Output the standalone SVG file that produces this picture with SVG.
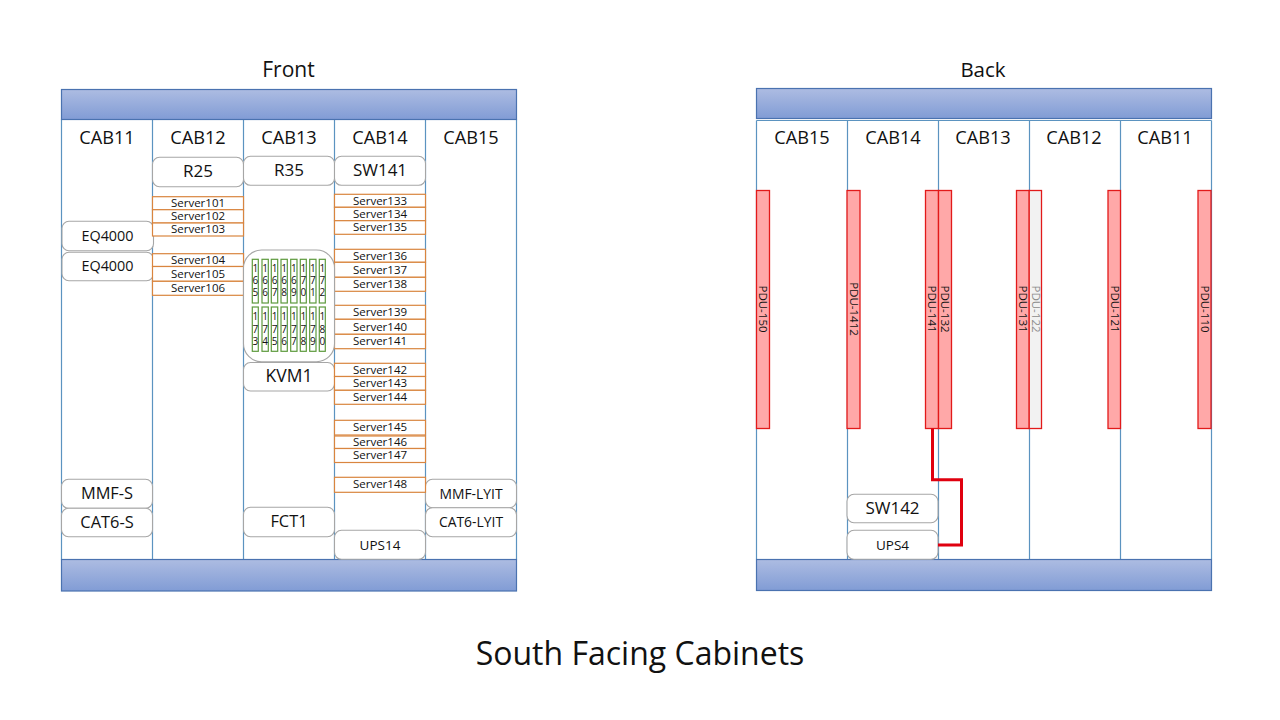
<svg xmlns="http://www.w3.org/2000/svg" width="1280" height="720" viewBox="0 0 1280 720">
<style>
text{font-family:"Open Sans","Noto Sans","Liberation Sans",sans-serif;fill:#111;text-anchor:middle}
.bar{fill:url(#g);stroke:#4a72b0;stroke-width:1.2}
.col{fill:none;stroke:#5b93c0;stroke-width:1.2}
.box{fill:#fff;stroke:#a6a6a6;stroke-width:1.1}
.srv{fill:#fff;stroke:#d9853f;stroke-width:1.2}
.cell{fill:#fff;stroke:#5d9a3c;stroke-width:1.2}
.pdu{fill:#ffa8a8;stroke:#e21a1a;stroke-width:1.3}
.pl{fill:#f2f2f2}
.cab{font-size:18.2px}
.n17{font-size:17px}
.n16{font-size:16.400px}
.n14{font-size:14.400px}
.n13{font-size:13.500px}
.nl{font-size:13.900px}
.s{font-size:11.500px}
.d{font-size:10px}
.p{font-size:11.500px}
.wire{fill:none;stroke:#e0000f;stroke-width:3}
</style>
<defs>
<linearGradient id="g" x1="0" y1="0" x2="0" y2="1"><stop offset="0" stop-color="#adbce2"/><stop offset="1" stop-color="#819cd5"/></linearGradient>
</defs>
<rect width="1280" height="720" fill="#fff"/>
<text x="288.500" y="77" font-size="21">Front</text>
<text x="983" y="77" font-size="20.500">Back</text>
<text x="640" y="665" font-size="32">South Facing Cabinets</text>

<g id="front-frame">
<path class="col" d="M61.500 119.500V559.500M152.500 119.500V559.500M243.500 119.500V559.500M334.500 119.500V559.500M425.500 119.500V559.500M516.500 119.500V559.500"/>
<rect class="bar" x="61.500" y="89.500" width="455" height="30"/>
<rect class="bar" x="61.500" y="559.500" width="455" height="31.500"/>
<text x="107" y="144" class="cab">CAB11</text><text x="198" y="144" class="cab">CAB12</text><text x="289" y="144" class="cab">CAB13</text><text x="380" y="144" class="cab">CAB14</text><text x="471" y="144" class="cab">CAB15</text>
</g>
<g id="back-frame">
<path class="col" d="M756.500 120.500H1211.500M756.500 120.500V559M847.500 120.500V559M938.500 120.500V559M1029.500 120.500V559M1120.500 120.500V559M1211.500 120.500V559"/>
<rect class="bar" x="756.500" y="88.500" width="455" height="30"/>
<rect class="bar" x="756.500" y="559.500" width="455" height="31"/>
<text x="802" y="144" class="cab">CAB15</text><text x="893" y="144" class="cab">CAB14</text><text x="983" y="144" class="cab">CAB13</text><text x="1074" y="144" class="cab">CAB12</text><text x="1165" y="144" class="cab">CAB11</text>
</g>

<g id="R25"><rect class="box" x="152.500" y="157.300" width="91" height="29.400" rx="7"/><text x="198" y="177" class="n17">R25</text></g>
<g id="R35"><rect class="box" x="243.500" y="156.300" width="91" height="29" rx="7"/><text x="289" y="176" class="n17">R35</text></g>
<g id="SW141"><rect class="box" x="334.500" y="156.300" width="91" height="29" rx="7"/><text x="380" y="176" class="n17">SW141</text></g>
<g id="EQ4000-1"><rect class="box" x="62" y="221.300" width="91.500" height="29.400" rx="7"/><text x="107.500" y="241" class="n14">EQ4000</text></g>
<g id="EQ4000-2"><rect class="box" x="62" y="252.300" width="91.500" height="28.400" rx="7"/><text x="107.500" y="271" class="n14">EQ4000</text></g>
<g id="KVM1"><rect class="box" x="243.500" y="362.500" width="91" height="28.500" rx="7"/><text x="289" y="382" class="n17" style="font-size:17.500px">KVM1</text></g>
<g id="FCT1"><rect class="box" x="243.500" y="507.300" width="91" height="29.400" rx="7"/><text x="289" y="527" class="n16">FCT1</text></g>
<g id="UPS14"><rect class="box" x="334.500" y="530.300" width="91" height="29" rx="7"/><text x="380" y="550" class="n13">UPS14</text></g>
<g id="MMF-S"><rect class="box" x="61.500" y="479.300" width="91" height="29" rx="7"/><text x="107" y="499" class="n16">MMF-S</text></g>
<g id="CAT6-S"><rect class="box" x="61.500" y="508.300" width="91" height="28.400" rx="7"/><text x="107" y="528" class="n16">CAT6-S</text></g>
<g id="MMF-LYIT"><rect class="box" x="425.500" y="479.300" width="91" height="28.400" rx="7"/><text x="471" y="499" class="nl">MMF-LYIT</text></g>
<g id="CAT6-LYIT"><rect class="box" x="425.500" y="507.700" width="91" height="29" rx="7"/><text x="471" y="527" class="nl">CAT6-LYIT</text></g>

<g id="Server101"><rect class="srv" x="152.500" y="196.700" width="91" height="13"/><text x="198" y="207" class="s">Server101</text></g>
<g id="Server102"><rect class="srv" x="152.500" y="209.700" width="91" height="13.300"/><text x="198" y="220" class="s">Server102</text></g>
<g id="Server103"><rect class="srv" x="152.500" y="223" width="91" height="13"/><text x="198" y="233" class="s">Server103</text></g>
<g id="Server104"><rect class="srv" x="152.500" y="253.700" width="91" height="12.800"/><text x="198" y="264" class="s">Server104</text></g>
<g id="Server105"><rect class="srv" x="152.500" y="266.500" width="91" height="14.800"/><text x="198" y="278" class="s">Server105</text></g>
<g id="Server106"><rect class="srv" x="152.500" y="281.300" width="91" height="14"/><text x="198" y="292" class="s">Server106</text></g>

<g id="Server133"><rect class="srv" x="334.500" y="194.300" width="91" height="13"/><text x="380" y="205" class="s">Server133</text></g>
<g id="Server134"><rect class="srv" x="334.500" y="207.300" width="91" height="13.400"/><text x="380" y="218" class="s">Server134</text></g>
<g id="Server135"><rect class="srv" x="334.500" y="220.700" width="91" height="13.600"/><text x="380" y="231" class="s">Server135</text></g>
<g id="Server136"><rect class="srv" x="334.500" y="249.300" width="91" height="13"/><text x="380" y="260" class="s">Server136</text></g>
<g id="Server137"><rect class="srv" x="334.500" y="262.300" width="91" height="15"/><text x="380" y="274" class="s">Server137</text></g>
<g id="Server138"><rect class="srv" x="334.500" y="277.300" width="91" height="14"/><text x="380" y="288" class="s">Server138</text></g>
<g id="Server139"><rect class="srv" x="334.500" y="305.300" width="91" height="14"/><text x="380" y="316" class="s">Server139</text></g>
<g id="Server140"><rect class="srv" x="334.500" y="319.300" width="91" height="15"/><text x="380" y="331" class="s">Server140</text></g>
<g id="Server141"><rect class="srv" x="334.500" y="334.300" width="91" height="14.400"/><text x="380" y="345" class="s">Server141</text></g>
<g id="Server142"><rect class="srv" x="334.500" y="363.300" width="91" height="13.200"/><text x="380" y="374" class="s">Server142</text></g>
<g id="Server143"><rect class="srv" x="334.500" y="376.500" width="91" height="13.800"/><text x="380" y="387" class="s">Server143</text></g>
<g id="Server144"><rect class="srv" x="334.500" y="390.300" width="91" height="14"/><text x="380" y="401" class="s">Server144</text></g>
<g id="Server145"><rect class="srv" x="334.500" y="420.300" width="91" height="14.700"/><text x="380" y="431" class="s">Server145</text></g>
<g id="Server146"><rect class="srv" x="334.500" y="436" width="91" height="12.500"/><text x="380" y="446" class="s">Server146</text></g>
<g id="Server147"><rect class="srv" x="334.500" y="448.500" width="91" height="14"/><text x="380" y="459" class="s">Server147</text></g>
<g id="Server148"><rect class="srv" x="334.500" y="477.300" width="91" height="15"/><text x="380" y="488" class="s">Server148</text></g>

<g id="blade-chassis"><rect class="box" x="243.500" y="250" width="91" height="111.700" rx="18"/>
<g id="cells-top">
<rect class="cell" x="252.300" y="259.300" width="6" height="43.700"/><text class="d"><tspan x="255.300" y="272">1</tspan><tspan x="255.300" y="284">6</tspan><tspan x="255.300" y="296">5</tspan></text>
<rect class="cell" x="262" y="259.300" width="6.300" height="43.700"/><text class="d"><tspan x="265.100" y="272">1</tspan><tspan x="265.100" y="284">6</tspan><tspan x="265.100" y="296">6</tspan></text>
<rect class="cell" x="271.300" y="259.300" width="6.400" height="43.700"/><text class="d"><tspan x="274.500" y="272">1</tspan><tspan x="274.500" y="284">6</tspan><tspan x="274.500" y="296">7</tspan></text>
<rect class="cell" x="281" y="259.300" width="6.300" height="43.700"/><text class="d"><tspan x="284.100" y="272">1</tspan><tspan x="284.100" y="284">6</tspan><tspan x="284.100" y="296">8</tspan></text>
<rect class="cell" x="290.700" y="259.300" width="6.300" height="43.700"/><text class="d"><tspan x="293.800" y="272">1</tspan><tspan x="293.800" y="284">6</tspan><tspan x="293.800" y="296">9</tspan></text>
<rect class="cell" x="300.300" y="259.300" width="6" height="43.700"/><text class="d"><tspan x="303.300" y="272">1</tspan><tspan x="303.300" y="284">7</tspan><tspan x="303.300" y="296">0</tspan></text>
<rect class="cell" x="309.700" y="259.300" width="6.300" height="43.700"/><text class="d"><tspan x="312.800" y="272">1</tspan><tspan x="312.800" y="284">7</tspan><tspan x="312.800" y="296">1</tspan></text>
<rect class="cell" x="319.300" y="259.300" width="6" height="43.700"/><text class="d"><tspan x="322.300" y="272">1</tspan><tspan x="322.300" y="284">7</tspan><tspan x="322.300" y="296">2</tspan></text>
</g>
<g id="cells-bottom">
<rect class="cell" x="252.300" y="307" width="6" height="44.300"/><text class="d"><tspan x="255.300" y="320">1</tspan><tspan x="255.300" y="332.500">7</tspan><tspan x="255.300" y="345">3</tspan></text>
<rect class="cell" x="262" y="307" width="6.300" height="44.300"/><text class="d"><tspan x="265.100" y="320">1</tspan><tspan x="265.100" y="332.500">7</tspan><tspan x="265.100" y="345">4</tspan></text>
<rect class="cell" x="271.300" y="307" width="6.400" height="44.300"/><text class="d"><tspan x="274.500" y="320">1</tspan><tspan x="274.500" y="332.500">7</tspan><tspan x="274.500" y="345">5</tspan></text>
<rect class="cell" x="281" y="307" width="6.300" height="44.300"/><text class="d"><tspan x="284.100" y="320">1</tspan><tspan x="284.100" y="332.500">7</tspan><tspan x="284.100" y="345">6</tspan></text>
<rect class="cell" x="290.700" y="307" width="6.300" height="44.300"/><text class="d"><tspan x="293.800" y="320">1</tspan><tspan x="293.800" y="332.500">7</tspan><tspan x="293.800" y="345">7</tspan></text>
<rect class="cell" x="300.300" y="307" width="6" height="44.300"/><text class="d"><tspan x="303.300" y="320">1</tspan><tspan x="303.300" y="332.500">7</tspan><tspan x="303.300" y="345">8</tspan></text>
<rect class="cell" x="309.700" y="307" width="6.300" height="44.300"/><text class="d"><tspan x="312.800" y="320">1</tspan><tspan x="312.800" y="332.500">7</tspan><tspan x="312.800" y="345">9</tspan></text>
<rect class="cell" x="319.300" y="307" width="6" height="44.300"/><text class="d"><tspan x="322.300" y="320">1</tspan><tspan x="322.300" y="332.500">8</tspan><tspan x="322.300" y="345">0</tspan></text>
</g>
</g>

<g id="SW142"><rect class="box" x="847" y="494.300" width="91" height="28.400" rx="7"/><text x="892.500" y="514" class="n17">SW142</text></g>
<g id="UPS4"><rect class="box" x="847" y="530.300" width="91" height="29" rx="7"/><text x="892.500" y="550" class="n13">UPS4</text></g>

<g id="PDU-150"><rect class="pdu" x="756.500" y="190.500" width="13" height="238"/><text transform="translate(759,309) rotate(90)" class="p">PDU-150</text></g>
<g id="PDU-1412"><rect class="pdu" x="847" y="190.500" width="13" height="238"/><text transform="translate(849.500,309) rotate(90)" class="p">PDU-1412</text></g>
<g id="PDU-122"><rect class="pdu pl" x="1029" y="190.500" width="12.500" height="238"/><text transform="translate(1031.500,309) rotate(90)" class="p" style="fill:#8c8c8c">PDU-122</text></g>
<g id="PDU-141"><rect class="pdu" x="925.500" y="190.500" width="13" height="238"/><text transform="translate(928,309) rotate(90)" class="p">PDU-141</text></g>
<g id="PDU-132"><rect class="pdu" x="938.500" y="190.500" width="13" height="238"/><text transform="translate(941,309) rotate(90)" class="p">PDU-132</text></g>
<g id="PDU-131"><rect class="pdu" x="1016.500" y="190.500" width="12.500" height="238"/><text transform="translate(1019,309) rotate(90)" class="p">PDU-131</text></g>
<g id="PDU-121"><rect class="pdu" x="1108" y="190.500" width="12.500" height="238"/><text transform="translate(1110.500,309) rotate(90)" class="p">PDU-121</text></g>
<g id="PDU-110"><rect class="pdu" x="1198" y="190.500" width="13" height="238"/><text transform="translate(1200.500,309) rotate(90)" class="p">PDU-110</text></g>

<g id="connectors"><path class="wire" d="M932.500 428.500V479.700H961.500V545H938"/></g>
</svg>
